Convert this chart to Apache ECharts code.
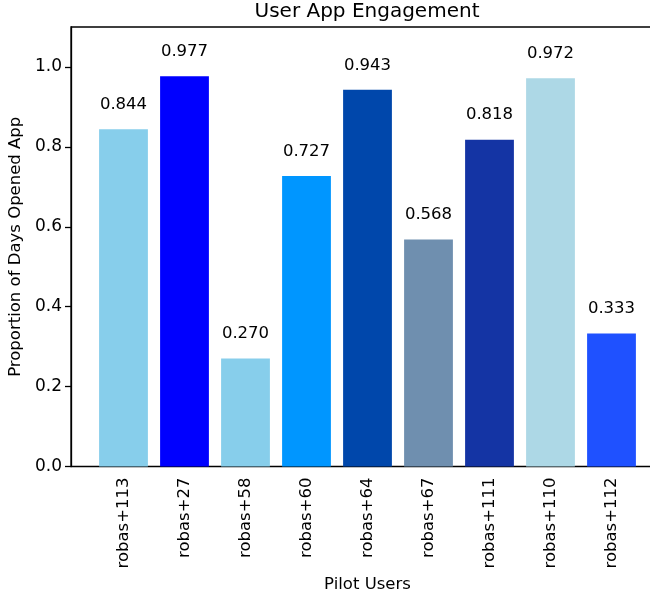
<!DOCTYPE html>
<html>
<head>
<meta charset="utf-8">
<script src="https://cdn.jsdelivr.net/npm/echarts@6/dist/echarts.min.js"></script>
<style>
  html, body { margin: 0; padding: 0; background: #fff; }
  #chart { width: 650px; height: 594px; }
</style>
</head>
<body>
<div id="chart"></div>
<script>
// data
const users = ['robas+113', 'robas+27', 'robas+58', 'robas+60', 'robas+64', 'robas+67', 'robas+111', 'robas+110', 'robas+112'];
const proportions = [0.844, 0.977, 0.270, 0.727, 0.943, 0.568, 0.818, 0.972, 0.333];
const barColors = ['#87CEEB', '#0000FF', '#87CEEB', '#0096FF', '#0047AB', '#6F8FAF', '#1434A4', '#ADD8E6', '#1F51FF'];
const yTicks = [0, 0.2, 0.4, 0.6, 0.8, 1.0];

const font = 'DejaVu Sans';
const chart = echarts.init(document.getElementById('chart'), null, { renderer: 'canvas' });

chart.setOption({
  animation: false,
  backgroundColor: '#fff',
  title: {
    text: 'User App Engagement',
    left: 367,
    textAlign: 'center',
    top: 2,
    padding: 0,
    textStyle: { fontFamily: font, fontSize: 20, fontWeight: 'normal', color: '#000' }
  },
  grid: [
    // bars live here (matplotlib x-limits are a bit wider than the bands)
    { left: 93, width: 549, top: 27, bottom: 127.5, containLabel: false, outerBoundsMode: 'none' },
    // axes frame, right edge is cropped off like in the picture
    { left: 71, width: 592, top: 27, bottom: 127.5, outerBoundsMode: 'none', show: true, borderColor: '#000', borderWidth: 1.3, backgroundColor: 'transparent' }
  ],
  xAxis: [
    {
      type: 'category',
      gridIndex: 0,
      data: users,
      boundaryGap: true,
      name: 'Pilot Users',
      nameLocation: 'middle',
      nameGap: 104,
      nameTextStyle: { fontFamily: font, fontSize: 16.5, color: '#000' },
      axisLine: { show: false },
      axisTick: { alignWithLabel: true, length: 6, lineStyle: { color: '#000', width: 1.3 } },
      axisLabel: { rotate: 90, margin: 11, fontFamily: font, fontSize: 16.5, color: '#000', interval: 0 },
      splitLine: { show: false }
    },
    { type: 'value', gridIndex: 1, show: false }
  ],
  yAxis: [
    {
      type: 'value',
      gridIndex: 0,
      offset: 22,
      min: 0,
      max: 1.1,
      interval: 0.2,
      name: 'Proportion of Days Opened App',
      nameLocation: 'middle',
      nameGap: 39,
      nameTextStyle: { fontFamily: font, fontSize: 16.5, color: '#000' },
      axisLine: { show: true, lineStyle: { color: '#000', width: 1.3 } },
      axisTick: { show: true, length: 6, customValues: yTicks, lineStyle: { color: '#000', width: 1.3 } },
      axisLabel: {
        margin: 9,
        customValues: yTicks,
        fontFamily: font,
        fontSize: 17,
        color: '#000',
        formatter: v => v.toFixed(1)
      },
      splitLine: { show: false }
    },
    { type: 'value', gridIndex: 1, show: false }
  ],
  series: [
    {
      type: 'bar',
      xAxisIndex: 0,
      yAxisIndex: 0,
      barWidth: '80%',
      data: proportions.map((v, i) => ({ value: v, itemStyle: { color: barColors[i] } })),
      label: {
        show: true,
        position: 'top',
        distance: 16,
        fontFamily: font,
        fontSize: 16.5,
        color: '#000',
        formatter: p => p.value.toFixed(3)
      }
    }
  ]
});
</script>
</body>
</html>
